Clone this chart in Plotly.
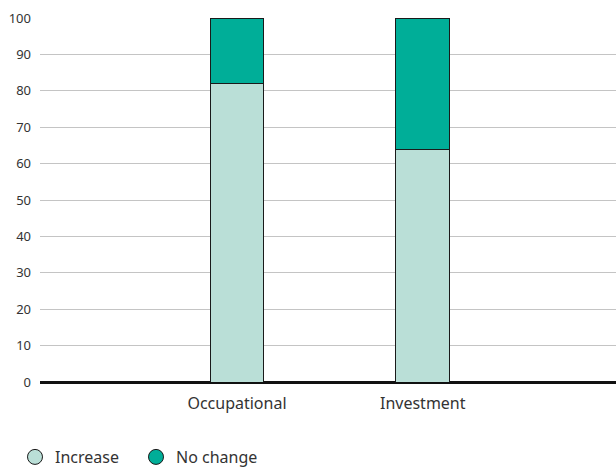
import plotly.graph_objects as go

categories = ["Occupational", "Investment"]
increase = [82, 64]
no_change = [18, 36]
series_names = ["Increase", "No change"]
colors = ["#badfd7", "#00ae98"]

fig = go.Figure()
for name, vals, col in zip(series_names, [increase, no_change], colors):
    fig.add_trace(go.Bar(
        x=categories, y=vals, name=name, width=0.29,
        marker=dict(color=col, line=dict(color="#1a1a1a", width=1)),
        showlegend=False,
    ))
    fig.add_trace(go.Scatter(
        x=[None], y=[None], mode="markers", name=name,
        marker=dict(symbol="circle", size=15, color=col, line=dict(color="#1a1a1a", width=1)),
        showlegend=True,
    ))

fig.update_layout(
    barmode="stack",
    width=616, height=469,
    margin=dict(l=40, r=0, t=18, b=87, autoexpand=False),
    paper_bgcolor="white", plot_bgcolor="white",
    font=dict(family="Noto Sans", size=13, color="#333333"),
    showlegend=True,
    legend=dict(orientation="h", xref="container", yref="container",
                x=15/616, xanchor="left", y=12/469, yanchor="middle",
                traceorder="normal",
                font=dict(size=16, color="#333333"), itemwidth=30,
                entrywidth=76, entrywidthmode="pixels"),
    xaxis=dict(range=[-1.06, 2.04], showgrid=False, ticks="", ticklabelstandoff=10,
               tickfont=dict(size=16)),
    yaxis=dict(range=[0, 100], dtick=10, showgrid=True, gridcolor="#c4c4c4", gridwidth=1,
               zeroline=True, zerolinecolor="#111111", zerolinewidth=2.5,
               ticks="", ticklabelstandoff=8, tickfont=dict(size=13)),
)
fig.write_html("out.html", config={"displayModeBar": False},
               post_script="document.body.style.margin='0';")
